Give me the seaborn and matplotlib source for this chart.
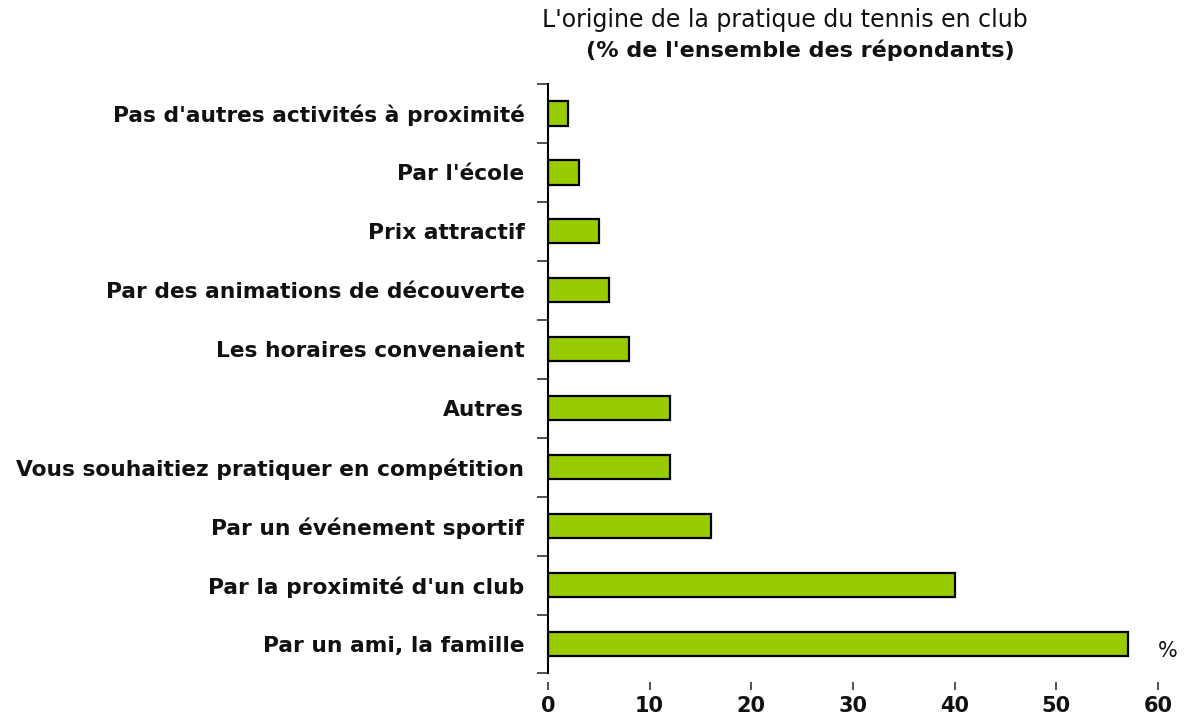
import numpy as np
import pandas as pd
import matplotlib
matplotlib.use('Agg')
import matplotlib.pyplot as plt
import seaborn as sns

# données
categories = ["Pas d'autres activités à proximité", "Par l'école", "Prix attractif",
              "Par des animations de découverte", "Les horaires convenaient", "Autres",
              "Vous souhaitiez pratiquer en compétition", "Par un événement sportif",
              "Par la proximité d'un club", "Par un ami, la famille"]
values = [2, 3, 5, 6, 8, 12, 12, 16, 40, 57]
xticks = [0, 10, 20, 30, 40, 50, 60]

df = pd.DataFrame({'cat': categories, 'val': values})

sns.set_theme(style='white')
plt.rcParams['font.family'] = ['DejaVu Sans']

fig = plt.figure(figsize=(11.88, 7.2), dpi=100)
ax = fig.add_axes([548 / 1188, 1 - 673.5 / 720, (1158 - 548) / 1188, (673.5 - 84) / 720])

sns.barplot(data=df, x='val', y='cat', orient='h', color='#99cc00',
            edgecolor='black', linewidth=1.6, width=0.41, saturation=1, ax=ax)

# axes et bordures
for s in ['top', 'right']:
    ax.spines[s].set_visible(False)
ax.spines['bottom'].set_position(('outward', 6))
ax.spines['bottom'].set_visible(False)
ax.spines['left'].set_color('black')
ax.spines['left'].set_linewidth(1.5)

ax.set_xlim(0, 60)
ax.set_ylim(9.5, -0.5)
ax.set_xticks(xticks)
ax.set_xlabel('')
ax.set_ylabel('')
ax.tick_params(axis='y', which='major', length=0, pad=17, labelsize=15.7)
ax.set_yticks(np.arange(-0.5, 10, 1), minor=True)
ax.tick_params(axis='y', which='minor', length=8, width=1.2, direction='out', color='#333333')
ax.tick_params(axis='x', length=6, width=1.2, direction='out', color='#333333', pad=4, labelsize=15)
ax.xaxis.set_ticks_position('bottom')
ax.yaxis.set_ticks_position('left')
ax.set_xticklabels([str(t) for t in xticks], fontweight='bold', color='#111111')
plt.setp(ax.get_yticklabels(), fontweight='bold', color='#111111')

fig.text(785 / 1188, 1 - 20 / 720, "L'origine de la pratique du tennis en club",
         ha='center', va='center', fontsize=17, color='#111111')
fig.text(800 / 1188, 1 - 50 / 720, "(% de l'ensemble des répondants)",
         ha='center', va='center', fontsize=16, fontweight='bold', color='#111111')
fig.text(1168 / 1188, 1 - 651 / 720, '%', ha='center', va='center', fontsize=15, color='#111111')

fig.savefig('out.png', dpi=100)
